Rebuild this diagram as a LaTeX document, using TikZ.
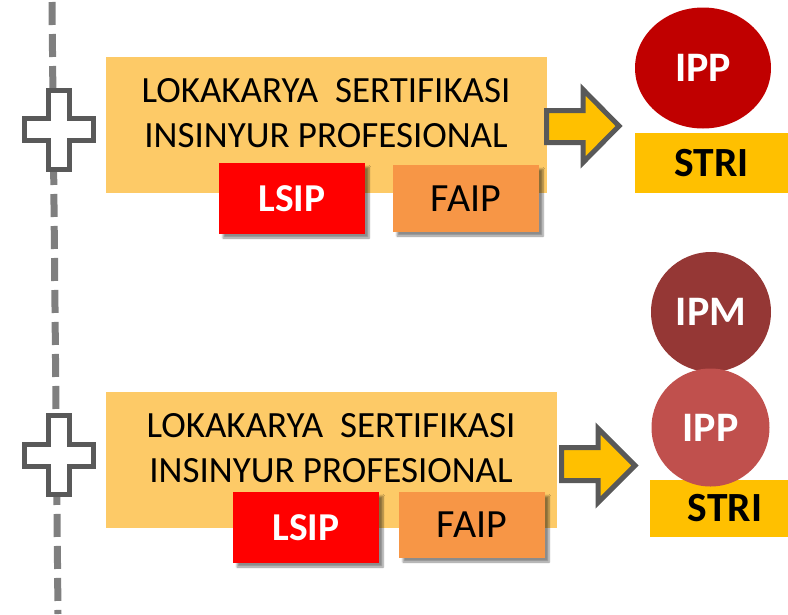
\documentclass[tikz,border=0pt]{standalone}
\usepackage{fontspec}
\setmainfont{Carlito}
\usetikzlibrary{shapes.geometric,shadows.blur}
\definecolor{boxbg}{HTML}{FDCA67}
\definecolor{lsipred}{HTML}{FF0000}
\definecolor{faiporange}{HTML}{F79646}
\definecolor{amber}{HTML}{FFC000}
\definecolor{darkline}{HTML}{595959}
\definecolor{dashgray}{HTML}{7F7F7F}
\definecolor{ippred}{HTML}{C00000}
\definecolor{ipmred}{HTML}{953735}
\definecolor{ipplight}{HTML}{C0504D}
\begin{document}
\begin{tikzpicture}[x=1pt,y=-1pt,
  dashline/.style={draw=dashgray, line width=7pt, dash pattern=on 23pt off 9pt, dash phase=30pt},
  plussign/.pic={\draw[draw=darkline, fill=white, line width=5pt, miter limit=10]
     (-10.5,-39.5) -- (10.5,-39.5) -- (10.5,-11) -- (34.5,-11) -- (34.5,11) -- (10.5,11)
     -- (10.5,39.5) -- (-10.5,39.5) -- (-10.5,11) -- (-34.5,11) -- (-34.5,-11) -- (-10.5,-11) -- cycle;},
  bigbox/.style={fill=boxbg, minimum height=136pt, inner sep=0pt},
  bigtext/.style={align=center, font=\fontsize{37}{45}\selectfont, inner sep=0pt},
  tagbox/.style={inner sep=0pt, minimum width=146pt,
     blur shadow={shadow xshift=4pt, shadow yshift=-4pt, shadow blur steps=6, shadow opacity=45}},
  lsipbox/.style={tagbox, fill=lsipred, text=white, font=\fontsize{39.5}{39.5}\selectfont\bfseries, minimum height=71pt},
  faipbox/.style={tagbox, fill=faiporange, text=black, font=\fontsize{40}{40}\selectfont, minimum height=67pt},
  blockarrow/.style={draw=darkline, fill=amber, line width=5pt, line join=miter},
  badge/.style={inner sep=0pt, text=white, font=\fontsize{42}{42}\selectfont\bfseries},
  stribox/.style={fill=amber, inner sep=0pt, text=black, font=\fontsize{41.5}{41.5}\selectfont\bfseries}
]
\useasboundingbox (0,0) rectangle (788,614);

% dashed vertical line
\coordinate (dtop) at (52,0);
\coordinate (dbot) at (58,614);
\draw[dashline] (dtop) -- (dbot);

% crosses
\pic at (59,129.5) {plussign};
\pic at (59,455) {plussign};

% ---- upper group ----
\node[bigbox, minimum width=441pt] (box1) at (326.5,125) {};
\node[bigtext] (txt1) at (326,113.5) {LOKAKARYA\ \ SERTIFIKASI\\INSINYUR PROFESIONAL};
\node[lsipbox] (lsip1) at (292,198.5) {LSIP};
\node[faipbox] (faip1) at (466,198.5) {FAIP};
\draw[blockarrow] (546.5,110.5) -- (583,110.5) -- (583,89.5) -- (619,126) -- (583,162.5)
   -- (583,142.5) -- (546.5,142.5) -- cycle;
\node[badge, ellipse, fill=ippred, minimum width=136pt, minimum height=121pt] (ipp1) at (703,68) {IPP};
\node[stribox, minimum width=153pt, minimum height=60pt] (stri1) at (711.5,163) {STRI};

% ---- lower group ----
\node[bigbox, minimum width=451pt] (box2) at (331.5,460) {};
\node[bigtext] (txt2) at (331,448.5) {LOKAKARYA\ \ SERTIFIKASI\\INSINYUR PROFESIONAL};
\node[lsipbox] (lsip2) at (306,527.5) {LSIP};
\node[faipbox, minimum height=66pt] (faip2) at (472,525) {FAIP};
\draw[blockarrow] (561.5,447.5) -- (598,447.5) -- (598,428.5) -- (635,465.5) -- (598,502.5)
   -- (598,480.5) -- (561.5,480.5) -- cycle;
\node[stribox, minimum width=150pt, minimum height=57pt] (stri2) at (725,508.5) {STRI};
\node[badge, circle, fill=ipmred, minimum size=120pt] (ipm) at (711,312) {IPM};
\node[badge, circle, fill=ipplight, minimum size=118pt] (ipp2) at (710.5,427.5) {IPP};
\end{tikzpicture}
\end{document}
